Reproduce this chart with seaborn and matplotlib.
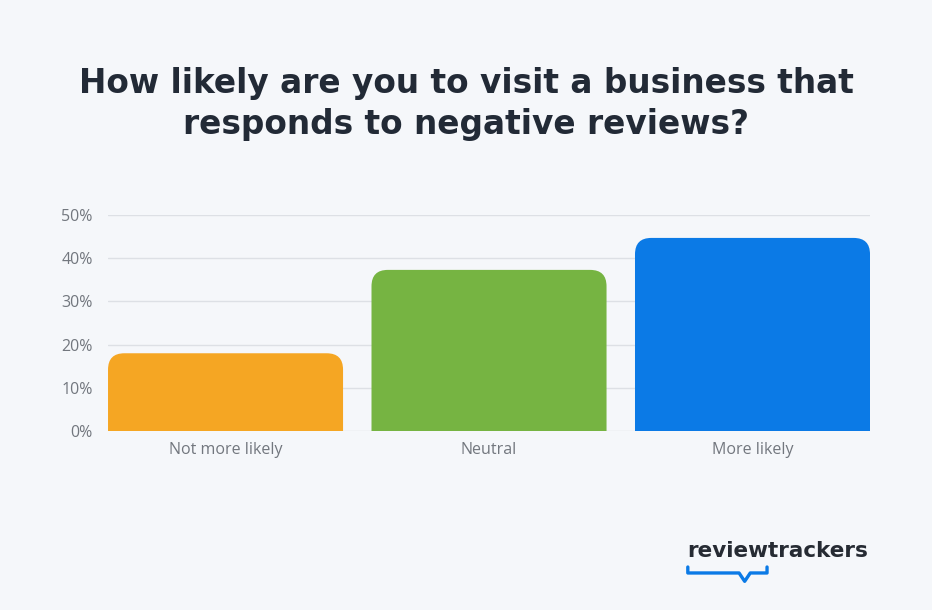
import pandas as pd
import matplotlib.pyplot as plt
import seaborn as sns
from matplotlib.patches import FancyBboxPatch
from matplotlib.lines import Line2D

# Data
categories = ["Not more likely", "Neutral", "More likely"]
shares = [18, 37.3, 44.7]
colors = ["#F5A623", "#76B442", "#0B7AE6"]
yticks = [0, 10, 20, 30, 40, 50]

bg = "#F5F7FA"
sns.set_theme(style="white")
plt.rcParams["font.family"] = ["Open Sans", "DejaVu Sans"]

df = pd.DataFrame({"answer": categories, "share": shares})

fig = plt.figure(figsize=(9.32, 6.10), dpi=100, facecolor=bg)
ax = fig.add_axes([0.1159, 0.2934, 0.8176, 0.3541], facecolor=bg)

sns.barplot(data=df, x="answer", y="share", hue="answer", palette=colors,
            saturation=1, width=0.892, legend=False, ax=ax, zorder=3)

ax.set_xlim(-0.446, 2.446)
ax.set_ylim(0, 50)

# swap each bar for one with rounded top corners (bottom part clipped at 0)
r = 0.062
aspect = 61
drop = 3 * r * aspect
for p in list(ax.patches):
    x0, w, h = p.get_x(), p.get_width(), p.get_height()
    col = p.get_facecolor()
    p.set_visible(False)
    rounded = FancyBboxPatch((x0, -drop), w, h + drop,
                             boxstyle=f"round,pad=0,rounding_size={r}",
                             mutation_aspect=aspect, facecolor=col,
                             linewidth=0, zorder=3)
    ax.add_patch(rounded)

ax.set_yticks(yticks)
ax.set_yticklabels([f"{t}%" for t in yticks])
ax.yaxis.grid(True, color="#DDE0E5", linewidth=1, zorder=0)
ax.set_axisbelow(True)
for s in ax.spines.values():
    s.set_visible(False)
ax.tick_params(axis="y", length=0, pad=11, labelsize=11.5, labelcolor="#72777E")
ax.tick_params(axis="x", length=0, pad=8, labelsize=11.5, labelcolor="#72777E")
ax.set_xlabel("")
ax.set_ylabel("")

fig.text(0.5, 0.829, "How likely are you to visit a business that\nresponds to negative reviews?",
         ha="center", va="center", fontsize=23.6, fontweight="bold",
         family="DejaVu Sans", color="#222A36", linespacing=1.3)

# logo
fig.text(0.7375, 0.087, "reviewtrackers", ha="left", va="baseline",
         fontsize=15.5, fontweight="bold", family="DejaVu Sans", color="#262B33")
blue = "#0B7AE6"
fig.add_artist(Line2D([0.738, 0.738, 0.793, 0.799, 0.805, 0.823, 0.823],
                      [0.0705, 0.0607, 0.0607, 0.047, 0.0607, 0.0607, 0.0705],
                      transform=fig.transFigure, color=blue, linewidth=2.4,
                      solid_capstyle="round", solid_joinstyle="round"))

fig.savefig("out.png", dpi=100, facecolor=bg)
